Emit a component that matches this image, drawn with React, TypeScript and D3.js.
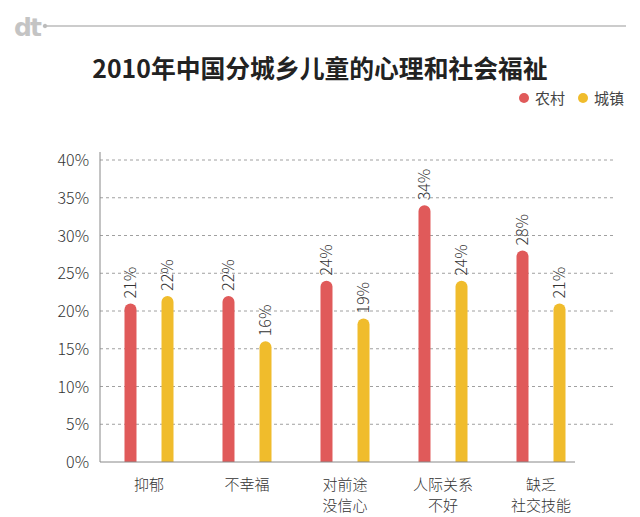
import React from "react";
import * as d3 from "d3";

const categories: string[][] = [["抑郁"], ["不幸福"], ["对前途", "没信心"], ["人际关系", "不好"], ["缺乏", "社交技能"]];
const rural = [21, 22, 24, 34, 28];
const urban = [22, 16, 19, 24, 21];
const yTicks = [0, 5, 10, 15, 20, 25, 30, 35, 40];
const seriesNames = ["农村", "城镇"];
const colors = ["#e05a5a", "#f0bc2c"];

const W = 640, H = 517;
const left = 100, top = 160, bottom = 462;
const font = "'Noto Sans CJK SC', 'Noto Sans', sans-serif";

export default function App() {
  const y = d3.scaleLinear().domain([0, 40]).range([bottom, top]);
  const x0 = d3.scaleBand<number>().domain(d3.range(categories.length)).range([left, left + 98 * 5]);
  const x1 = d3.scalePoint<number>().domain([0, 1]).range([0, x0.bandwidth()]).padding(0.824);
  const bw = 12;
  const series = [rural, urban];
  return (
    <svg width={W} height={H} style={{ position: "absolute", left: 0, top: 0, background: "#fff" }}>
      {/* header */}
      <text x={14} y={36} fontFamily="'DejaVu Sans', sans-serif" fontSize={25} fontWeight="bold" fill="#c4c4c4" letterSpacing={-2}>dt</text>
      <circle cx={45} cy={26} r={1.8} fill="#bbb" stroke="#aaa" strokeWidth={0.6} />
      <line x1={47} x2={626} y1={26} y2={26} stroke="#999" strokeWidth={1} />
      <text x={320} y={78} textAnchor="middle" fontFamily={font} fontSize={24.8} fontWeight="bold" fill="#222">2010年中国分城乡儿童的心理和社会福祉</text>
      {/* legend */}
      {seriesNames.map((n, i) => (
        <g key={n} transform={`translate(${524 + i * 59},98)`}>
          <circle cx={0} cy={0} r={5} fill={colors[i]} />
          <text x={11} y={5.5} fontFamily={font} fontSize={15} fill="#444">{n}</text>
        </g>
      ))}
      {/* grid */}
      {yTicks.map((t) => (
        <g key={t}>
          {t > 0 && <line x1={left} x2={615} y1={y(t)} y2={y(t)} stroke="#888" strokeDasharray="3,3" strokeWidth={0.8} />}
          <text x={89} y={y(t) + 6} textAnchor="end" fontFamily={font} fontSize={16} fontWeight={300} fill="#333">{t}%</text>
        </g>
      ))}
      <line x1={left} x2={left} y1={152} y2={bottom} stroke="#888" strokeWidth={1} />
      {/* bars */}
      {series.map((s, si) =>
        s.map((v, ci) => {
          const cx = (x0(ci) as number) + (x1(si) as number);
          const yt = y(v);
          const r = bw / 2;
          const path = `M${cx - r},${bottom} L${cx - r},${yt + r} A${r},${r} 0 0 1 ${cx + r},${yt + r} L${cx + r},${bottom} Z`;
          return (
            <g key={`${si}-${ci}`}>
              <path d={path} fill={colors[si]} />
              <text transform={`translate(${cx + 5.5},${yt - 5}) rotate(-90)`} fontFamily={font} fontSize={16} fontWeight={300} fill="#333">{v}%</text>
            </g>
          );
        })
      )}
      <line x1={left} x2={575} y1={bottom} y2={bottom} stroke="#888" strokeWidth={1} />
      {/* category labels */}
      {categories.map((lines, ci) => (
        <text key={ci} textAnchor="middle" fontFamily={font} fontSize={15} fontWeight={300} fill="#333">
          {lines.map((l, li) => (
            <tspan key={li} x={(x0(ci) as number) + x0.bandwidth() / 2} y={490 + li * 21}>{l}</tspan>
          ))}
        </text>
      ))}
    </svg>
  );
}
